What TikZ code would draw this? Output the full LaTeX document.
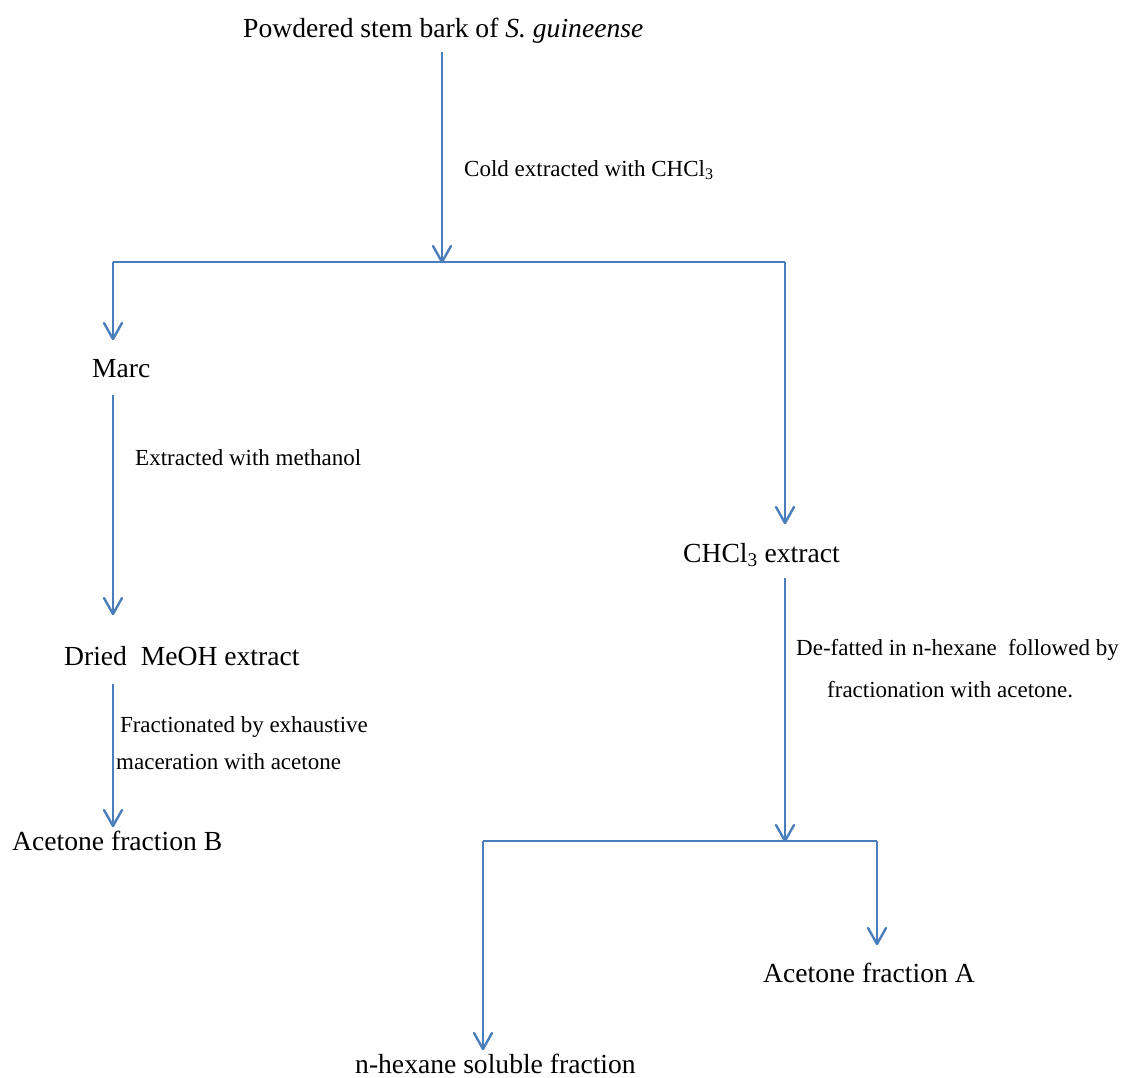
\documentclass[tikz,border=0pt]{standalone}
\usepackage{fontspec}
\setmainfont{Liberation Serif}
\usetikzlibrary{decorations.markings}
\definecolor{flowblue}{HTML}{4A7EBB}
\begin{document}
\begin{tikzpicture}[x=1pt,y=-1pt,
  stage/.style={anchor=base west,inner sep=0pt,font=\fontsize{27.6}{32}\selectfont},
  note/.style={anchor=base west,inner sep=0pt,align=left,font=\fontsize{23}{37}\selectfont},
  link/.style={draw=flowblue,line width=2.1pt},
  flow/.style={link,postaction={decorate},
    decoration={markings,mark=at position 1 with
      {\draw[flowblue,line width=2.4pt,line join=round,line cap=round]
        (-16pt,9pt) -- (0pt,0pt) -- (-16pt,-9pt);}}}]
\useasboundingbox (0,0) rectangle (1127,1077);

% stages
\node[stage] (powder) at (243,37) {Powdered stem bark of \textit{S.~guineense}};
\node[stage] (marc)   at (92,377) {Marc};
\node[stage] (meoh)   at (64,665) {Dried~~MeOH extract};
\node[stage] (fracB)  at (12,850) {Acetone fraction B};
\node[stage] (chcl)   at (683,562) {CHCl\textsubscript{3} extract};
\node[stage] (fracA)  at (763,982) {Acetone fraction A};
\node[stage] (hexane) at (355,1073) {n-hexane soluble fraction};

% step notes (anchored at the baseline of the last line)
\node[note] (n1) at (464,176) {Cold extracted with CHCl\textsubscript{3}};
\node[note] (n2) at (135,465) {Extracted with methanol};
\node[note] (n3) at (116,769) {\,Fractionated by exhaustive\\maceration with acetone};
\node[note,font=\fontsize{23}{42}\selectfont] (n4) at (796,697)
  {De-fatted in n-hexane~~followed by\\\hspace*{31pt}fractionation with acetone.};

% branch points
\coordinate (split1)  at (442,262);
\coordinate (split1L) at (113,262);
\coordinate (split1R) at (785,262);
\coordinate (split2)  at (785,841);
\coordinate (split2L) at (483,841);
\coordinate (split2R) at (877,841);

% connectors
\draw[flow] ([yshift=-15pt]powder.base -| split1) -- (split1);
\draw[link] (split1L) -- (split1R);
\draw[flow] (split1L) -- ([yshift=38pt]marc.base -| split1L);
\draw[flow] ([yshift=-18pt]marc.base -| split1L) -- ([yshift=51pt]meoh.base -| split1L);
\draw[flow] ([yshift=-19pt]meoh.base -| split1L) -- ([yshift=24pt]fracB.base -| split1L);
\draw[flow] (split1R) -- ([yshift=39pt]chcl.base -| split1R);
\draw[flow] ([yshift=-16pt]chcl.base -| split2) -- (split2);
\draw[link] (split2L) -- (split2R);
\draw[flow] (split2R) -- ([yshift=38pt]fracA.base -| split2R);
\draw[flow] (split2L) -- ([yshift=24pt]hexane.base -| split2L);
\end{tikzpicture}
\end{document}
